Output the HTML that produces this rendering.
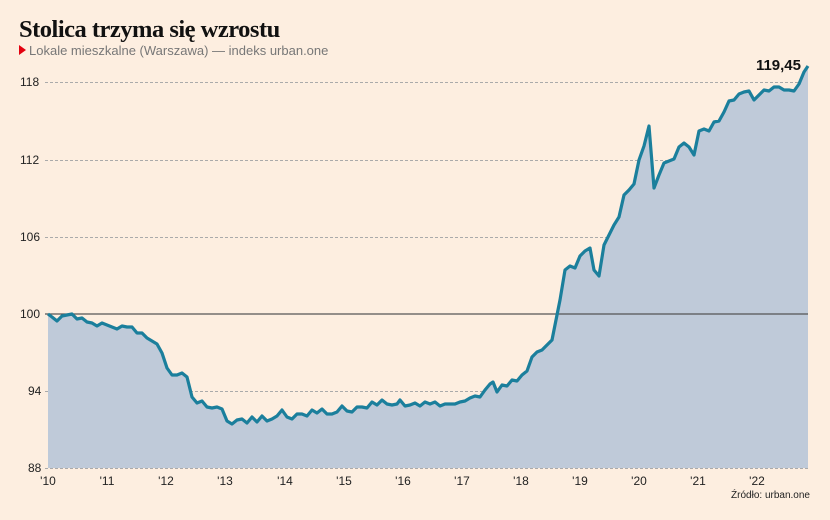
<!DOCTYPE html><html><head><meta charset="utf-8"><style>
body{margin:0;width:830px;height:520px;background:#fdeee0;overflow:hidden;font-family:"Liberation Sans",sans-serif}
</style></head><body>
<svg width="830" height="520" xmlns="http://www.w3.org/2000/svg" style="position:absolute;left:0;top:0">
<text x="19" y="37" font-family="Liberation Serif" font-weight="bold" font-size="24.5" fill="#111" letter-spacing="-0.5">Stolica trzyma się wzrostu</text>
<polygon points="19,45 26,50 19,55" fill="#e3000f"/>
<text x="29" y="55" font-size="13" fill="#777">Lokale mieszkalne (Warszawa) — indeks urban.one</text>
<g stroke="#aaa" stroke-dasharray="3,2" stroke-width="1">
<line x1="45" x2="808" y1="82.5" y2="82.5"/><line x1="45" x2="808" y1="160.5" y2="160.5"/><line x1="45" x2="808" y1="237.5" y2="237.5"/><line x1="45" x2="808" y1="391.5" y2="391.5"/></g>
<polygon fill="#bfcad9" points="48,468 48,314 52,317 57,321 62,316 67,315 72,314 77,319 82,318 87,322 92,323 97,326 102,323 107,325 112,327 117,329 122,326 127,327 132,327 137,333 142,333 147,338 152,341 157,344 162,353 167,368 172,375 177,375 182,373 187,377 192,397 197,403 202,401 207,407 212,408 217,407 222,409 227,421 232,424 237,420 242,419 247,423 252,417 257,422 262,416 267,421 272,419 277,416 282,410 287,417 292,419 297,414 302,414 307,416 312,410 317,413 322,409 327,414 332,414 337,412 342,406 347,411 352,412 357,407 362,407 367,408 372,402 377,405 382,400 387,404 392,405 397,404 400,400 405,406 410,405 415,403 420,406 425,402 430,404 435,402 440,406 445,404 450,404 455,404 460,402 465,401 470,398 475,396 480,397 485,390 490,384 493,382 497,392 502,385 507,386 512,380 517,381 522,375 527,371 532,357 537,352 542,350 547,345 552,340 555,325 560,300 565,270 570,266 575,268 580,256 585,251 590,248 594,270 599,276 604,245 609,235 614,225 619,217 624,195 629,190 634,184 639,160 644,146 649,126 654,188 659,175 664,163 669,161 674,159 679,147 684,143 689,147 694,155 699,131 704,129 709,131 714,122 719,121 724,112 729,101 734,100 739,94 744,92 749,91 754,100 759,95 764,90 769,91 774,87 779,87 784,90 789,90 794,91 799,84 804,72 808,66 808,468"/>
<line x1="45" x2="808" y1="468.5" y2="468.5" stroke="#aaa" stroke-dasharray="3,2"/>
<line x1="45" x2="808" y1="314" y2="314" stroke="#555" stroke-width="1.3"/>
<polyline fill="none" stroke="#1b7f9c" stroke-width="3.2" stroke-linejoin="round" points="48,314 52,317 57,321 62,316 67,315 72,314 77,319 82,318 87,322 92,323 97,326 102,323 107,325 112,327 117,329 122,326 127,327 132,327 137,333 142,333 147,338 152,341 157,344 162,353 167,368 172,375 177,375 182,373 187,377 192,397 197,403 202,401 207,407 212,408 217,407 222,409 227,421 232,424 237,420 242,419 247,423 252,417 257,422 262,416 267,421 272,419 277,416 282,410 287,417 292,419 297,414 302,414 307,416 312,410 317,413 322,409 327,414 332,414 337,412 342,406 347,411 352,412 357,407 362,407 367,408 372,402 377,405 382,400 387,404 392,405 397,404 400,400 405,406 410,405 415,403 420,406 425,402 430,404 435,402 440,406 445,404 450,404 455,404 460,402 465,401 470,398 475,396 480,397 485,390 490,384 493,382 497,392 502,385 507,386 512,380 517,381 522,375 527,371 532,357 537,352 542,350 547,345 552,340 555,325 560,300 565,270 570,266 575,268 580,256 585,251 590,248 594,270 599,276 604,245 609,235 614,225 619,217 624,195 629,190 634,184 639,160 644,146 649,126 654,188 659,175 664,163 669,161 674,159 679,147 684,143 689,147 694,155 699,131 704,129 709,131 714,122 719,121 724,112 729,101 734,100 739,94 744,92 749,91 754,100 759,95 764,90 769,91 774,87 779,87 784,90 789,90 794,91 799,84 804,72 808,66"/>
<g font-size="12" fill="#222" font-family="Liberation Sans">
<text x="20" y="86">118</text><text x="20" y="164">112</text><text x="20" y="241">106</text><text x="20" y="318">100</text><text x="28" y="395">94</text><text x="28" y="472">88</text>
</g>
<g font-size="12" fill="#222" text-anchor="middle">
<text x="48" y="485">'10</text><text x="107" y="485">'11</text><text x="166" y="485">'12</text><text x="225" y="485">'13</text><text x="285" y="485">'14</text><text x="344" y="485">'15</text><text x="403" y="485">'16</text><text x="462" y="485">'17</text><text x="521" y="485">'18</text><text x="580" y="485">'19</text><text x="639" y="485">'20</text><text x="698" y="485">'21</text><text x="757" y="485">'22</text>
</g>
<text x="810" y="498" font-size="10" fill="#222" text-anchor="end">Źródło: urban.one</text>
<text x="801" y="70" font-size="15" font-weight="bold" fill="#111" text-anchor="end">119,45</text>
</svg>
</body></html>
